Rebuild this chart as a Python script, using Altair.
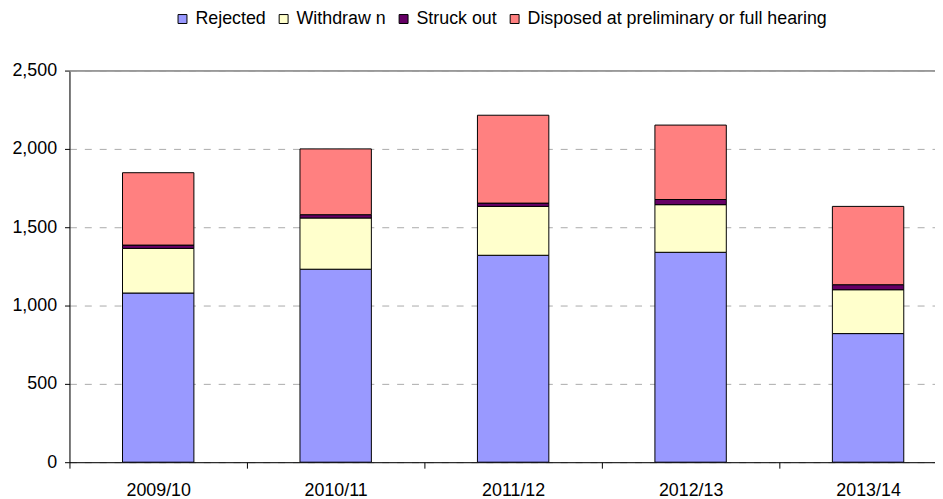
import altair as alt
import pandas as pd

years = ["2009/10", "2010/11", "2011/12", "2012/13", "2013/14"]
categories = ["Rejected", "Withdraw n", "Struck out", "Disposed at preliminary or full hearing"]
rejected = [1080, 1232, 1321, 1340, 821]
withdrawn = [285, 327, 312, 304, 280]
struck_out = [21, 21, 21, 33, 32]
disposed = [462, 420, 561, 475, 500]
colors = ["#9999FF", "#FFFFCC", "#660066", "#FF8080"]
y_ticks = [0, 500, 1000, 1500, 2000, 2500]

series = [rejected, withdrawn, struck_out, disposed]
rows = []
for ci, (cat, vals) in enumerate(zip(categories, series)):
    for y, v in zip(years, vals):
        rows.append({"year": y, "category": cat, "value": v, "idx": ci})
df = pd.DataFrame(rows)

FONT = "Liberation Sans"
FS = 18

bars = alt.Chart(df).mark_bar(stroke="black", strokeWidth=1, size=72).encode(
    x=alt.X("year:N", sort=years,
            scale=alt.Scale(range=[0, 895], paddingInner=0, paddingOuter=0),
            axis=alt.Axis(title=None, labelAngle=0, tickBand="extent", tickSize=6,
                          tickColor="black", domainColor="black", labelFont=FONT,
                          labelFontSize=FS, labelColor="black", labelPadding=14,
                          grid=False)),
    y=alt.Y("value:Q", stack="zero",
            scale=alt.Scale(domain=[0, 2500], nice=False),
            axis=alt.Axis(title=None, values=y_ticks, format=",d", tickSize=5,
                          tickColor="black", domainColor="black", labelFont=FONT,
                          labelFontSize=FS, labelColor="black", labelPadding=8,
                          gridColor="#aaaaaa", gridDash=[7, 8], gridWidth=1)),
    color=alt.Color("category:N", sort=categories,
                    scale=alt.Scale(domain=categories, range=colors),
                    legend=alt.Legend(title=None, orient="none", direction="horizontal",
                                      legendX=105, legendY=-61, symbolType="square",
                                      symbolSize=81, symbolStrokeColor="black",
                                      symbolStrokeWidth=1, labelFont=FONT,
                                      labelFontSize=FS, labelColor="black",
                                      labelOffset=4, columnPadding=8, labelLimit=0)),
    order=alt.Order("idx:Q", sort="ascending"),
)

top_line = alt.Chart(df).mark_rule(color="#999999", strokeWidth=1).encode(
    y=alt.datum(2500)
)

chart = alt.layer(bars, top_line).properties(
    width=873, height=395,
    autosize=alt.AutoSizeParams(type="none"),
    padding={"left": 62, "top": 61, "right": 0, "bottom": 35},
).configure_view(stroke=None).configure(background="white")

chart.save("out.html", embed_options={"renderer": "svg", "actions": False})
